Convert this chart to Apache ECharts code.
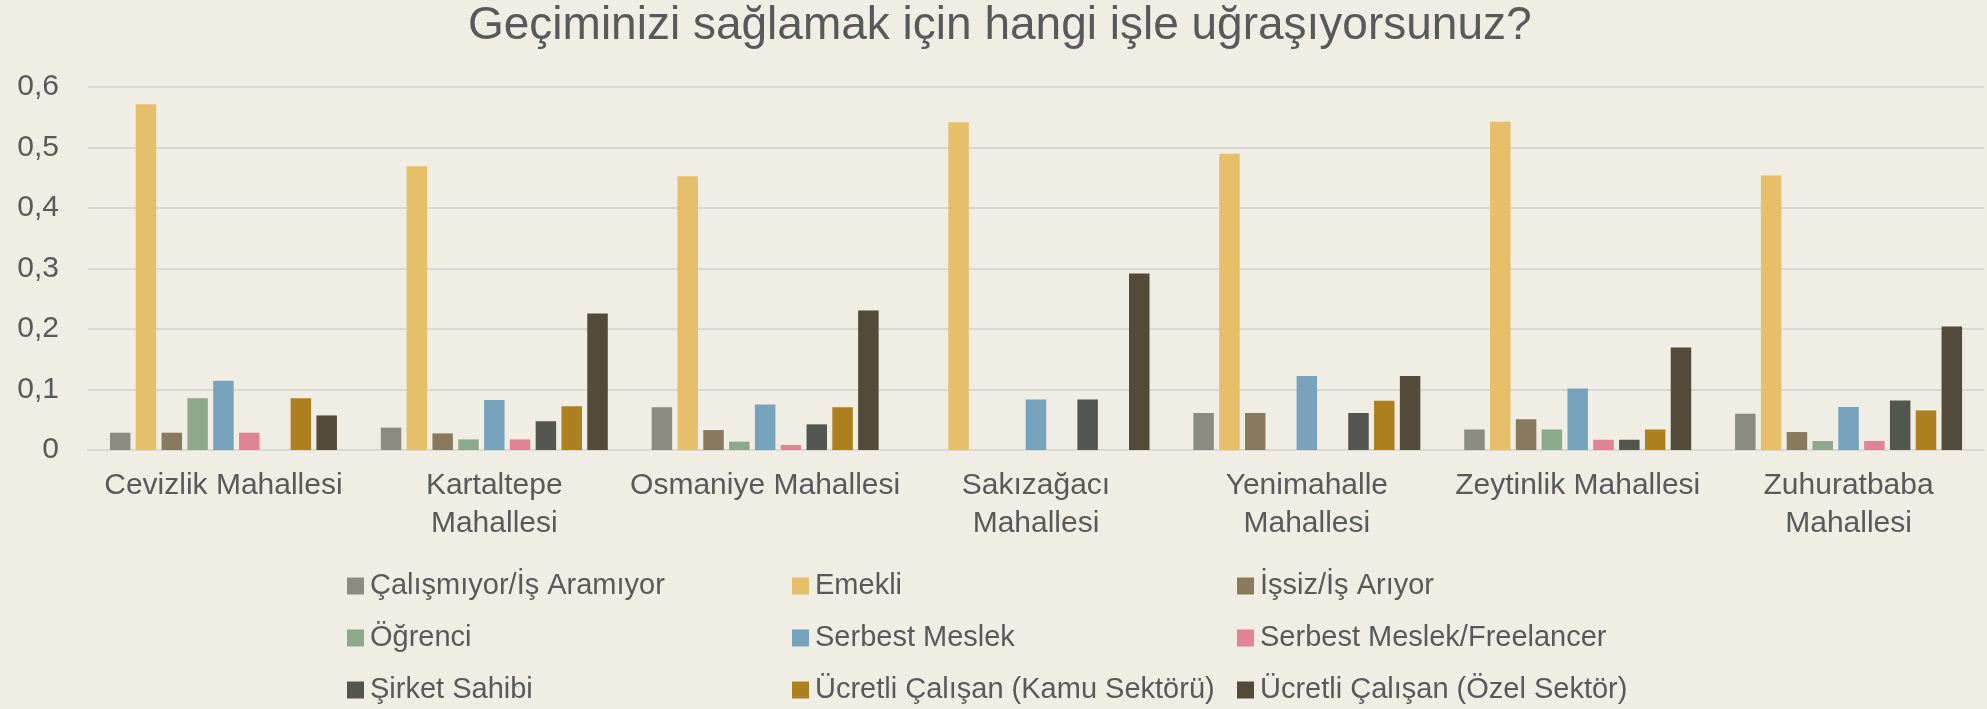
<!DOCTYPE html>
<html>
<head>
<meta charset="utf-8">
<script src="https://cdn.jsdelivr.net/npm/echarts@6/dist/echarts.min.js"></script>
<style>
  html, body { margin: 0; padding: 0; background: #EFEDE4; }
  #chart { width: 1987px; height: 709px; }
</style>
</head>
<body>
<div id="chart"></div>
<script>
var titleText = 'Geçiminizi sağlamak için hangi işle uğraşıyorsunuz?';
var categories = ['Cevizlik Mahallesi', 'Kartaltepe Mahallesi', 'Osmaniye Mahallesi', 'Sakızağacı Mahallesi',
    'Yenimahalle Mahallesi', 'Zeytinlik Mahallesi', 'Zuhuratbaba Mahallesi'];
var seriesNames = ['Çalışmıyor/İş Aramıyor', 'Emekli', 'İşsiz/İş Arıyor', 'Öğrenci', 'Serbest Meslek',
    'Serbest Meslek/Freelancer', 'Şirket Sahibi', 'Ücretli Çalışan (Kamu Sektörü)', 'Ücretli Çalışan (Özel Sektör)'];
var seriesColors = ['#8C8B82', '#E5BF69', '#8A7A5D', '#8CAA8B', '#77A2BC', '#E08496', '#53554F', '#AC7F1F', '#524B3A'];

// share of respondents per neighbourhood, one array per answer
var calismiyor = [0.0286, 0.0370, 0.0705, 0, 0.0612, 0.0339, 0.0600];
var emekli = [0.5714, 0.4690, 0.4525, 0.5417, 0.4898, 0.5424, 0.4536];
var issiz = [0.0286, 0.0275, 0.0330, 0, 0.0612, 0.0508, 0.0297];
var ogrenci = [0.0857, 0.0175, 0.0138, 0, 0, 0.0339, 0.0149];
var serbest = [0.1143, 0.0826, 0.0754, 0.0833, 0.1224, 0.1017, 0.0710];
var freelancer = [0.0286, 0.0175, 0.0083, 0, 0, 0.0169, 0.0149];
var sirket = [0, 0.0475, 0.0424, 0.0833, 0.0612, 0.0169, 0.0820];
var kamu = [0.0857, 0.0725, 0.0705, 0, 0.0816, 0.0339, 0.0655];
var ozel = [0.0571, 0.2257, 0.2307, 0.2917, 0.1224, 0.1695, 0.2043];
var yTicks = ['0', '0,1', '0,2', '0,3', '0,4', '0,5', '0,6'];

var allValues = [calismiyor, emekli, issiz, ogrenci, serbest, freelancer, sirket, kamu, ozel];
var textColor = '#595959';
var fontFamily = '"Liberation Sans", Arial, sans-serif';

var chart = echarts.init(document.getElementById('chart'), null, { width: 1987, height: 709 });

var series = [];
for (var i = 0; i < seriesNames.length; ++i) {
    series.push({
        name: seriesNames[i],
        type: 'bar',
        data: allValues[i],
        barGap: '26%',
        barCategoryGap: '16.2%',
        itemStyle: { color: seriesColors[i] },
        emphasis: { disabled: true }
    });
}

function legendBlock(idx, left) {
    return {
        data: idx.map(function (k) { return seriesNames[k]; }),
        orient: 'vertical',
        left: left,
        top: 571,
        padding: 0,
        itemWidth: 17,
        itemHeight: 17,
        itemGap: 22,
        icon: 'rect',
        selectedMode: false,
        textStyle: { color: textColor, fontSize: 29, fontFamily: fontFamily, lineHeight: 30, padding: [0, 0, 0, 1] }
    };
}

var option = {
    backgroundColor: '#EFEDE4',
    animation: false,
    color: seriesColors,
    title: {
        text: titleText,
        left: 468,
        top: 3,
        padding: 0,
        textStyle: { color: textColor, fontSize: 46, fontWeight: 'normal', fontFamily: fontFamily }
    },
    legend: [
        legendBlock([0, 3, 6], 347),
        legendBlock([1, 4, 7], 792),
        legendBlock([2, 5, 8], 1237)
    ],
    grid: { left: 88, right: 3, top: 87, bottom: 259 },
    xAxis: {
        type: 'category',
        data: categories,
        axisTick: { show: false },
        axisLine: { lineStyle: { color: '#D9D8D3', width: 2 } },
        axisLabel: {
            color: textColor,
            fontSize: 30,
            fontFamily: fontFamily,
            lineHeight: 38,
            margin: 17,
            interval: 0,
            formatter: function (v) {
                return v.length > 19 ? v.replace(' Mahallesi', '\nMahallesi') : v;
            }
        }
    },
    yAxis: {
        type: 'value',
        min: 0,
        max: 0.6,
        interval: 0.1,
        axisLine: { show: false },
        axisTick: { show: false },
        splitLine: { lineStyle: { color: '#D9D8D3', width: 2 } },
        axisLabel: {
            color: textColor,
            fontSize: 30,
            fontFamily: fontFamily,
            margin: 29,
            formatter: function (v) {
                return yTicks[Math.round(v * 10)];
            }
        }
    },
    series: series
};

chart.setOption(option);
</script>
</body>
</html>
